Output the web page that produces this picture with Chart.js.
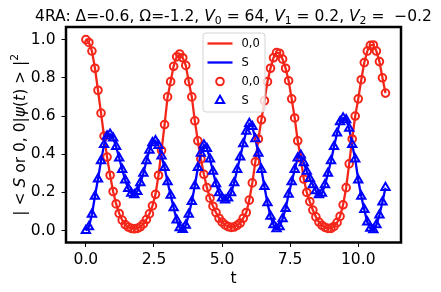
<!DOCTYPE html>
<html>
<head>
<meta charset="utf-8">
<script src="https://cdn.jsdelivr.net/npm/chart.js@4.4.0/dist/chart.umd.min.js"></script>
<style>
  html, body { margin: 0; padding: 0; background: #fff; }
  #wrap { width: 441px; height: 292px; }
</style>
</head>
<body>
<div id="wrap"><canvas id="chart" width="441" height="292"></canvas></div>
<script>
// time samples (t)
let times = [0.000, 0.111, 0.222, 0.333, 0.444, 0.556, 0.667, 0.778, 0.889, 1.000,
  1.111, 1.222, 1.333, 1.444, 1.556, 1.667, 1.778, 1.889, 2.000, 2.111,
  2.222, 2.333, 2.444, 2.556, 2.667, 2.778, 2.889, 3.000, 3.111, 3.222,
  3.333, 3.444, 3.556, 3.667, 3.778, 3.889, 4.000, 4.111, 4.222, 4.333,
  4.444, 4.556, 4.667, 4.778, 4.889, 5.000, 5.111, 5.222, 5.333, 5.444,
  5.556, 5.667, 5.778, 5.889, 6.000, 6.111, 6.222, 6.333, 6.444, 6.556,
  6.667, 6.778, 6.889, 7.000, 7.111, 7.222, 7.333, 7.444, 7.556, 7.667,
  7.778, 7.889, 8.000, 8.111, 8.222, 8.333, 8.444, 8.556, 8.667, 8.778,
  8.889, 9.000, 9.111, 9.222, 9.333, 9.444, 9.556, 9.667, 9.778, 9.889,
  10.000, 10.111, 10.222, 10.333, 10.444, 10.556, 10.667, 10.778, 10.889, 11.000];

// |<0,0|psi(t)>|^2
let probZero = [1.000, 0.985, 0.940, 0.850, 0.735, 0.615, 0.495, 0.385, 0.290, 0.205,
  0.140, 0.090, 0.055, 0.032, 0.019, 0.012, 0.010, 0.012, 0.020, 0.035,
  0.058, 0.088, 0.130, 0.190, 0.290, 0.420, 0.555, 0.700, 0.780, 0.860,
  0.910, 0.925, 0.905, 0.865, 0.780, 0.700, 0.575, 0.470, 0.375, 0.295,
  0.225, 0.170, 0.128, 0.095, 0.065, 0.045, 0.030, 0.021, 0.017, 0.019,
  0.028, 0.040, 0.065, 0.095, 0.160, 0.250, 0.360, 0.480, 0.580, 0.680,
  0.780, 0.850, 0.905, 0.932, 0.928, 0.898, 0.850, 0.785, 0.690, 0.590,
  0.470, 0.380, 0.270, 0.200, 0.152, 0.108, 0.072, 0.045, 0.028, 0.017,
  0.012, 0.012, 0.022, 0.042, 0.075, 0.135, 0.225, 0.350, 0.480, 0.600,
  0.690, 0.790, 0.880, 0.940, 0.970, 0.972, 0.940, 0.885, 0.800, 0.720];

// |<S|psi(t)>|^2
let probS = [0.000, 0.020, 0.085, 0.180, 0.270, 0.365, 0.450, 0.495, 0.505, 0.485,
  0.440, 0.380, 0.320, 0.265, 0.220, 0.195, 0.188, 0.205, 0.250, 0.300,
  0.365, 0.420, 0.460, 0.470, 0.445, 0.390, 0.330, 0.255, 0.185, 0.120,
  0.055, 0.015, 0.005, 0.028, 0.085, 0.152, 0.235, 0.330, 0.405, 0.448,
  0.430, 0.375, 0.310, 0.245, 0.198, 0.170, 0.160, 0.170, 0.198, 0.250,
  0.320, 0.385, 0.455, 0.520, 0.560, 0.545, 0.480, 0.405, 0.320, 0.230,
  0.145, 0.075, 0.030, 0.010, 0.020, 0.062, 0.115, 0.190, 0.255, 0.320,
  0.380, 0.395, 0.355, 0.310, 0.272, 0.240, 0.208, 0.188, 0.195, 0.240,
  0.300, 0.365, 0.440, 0.510, 0.570, 0.590, 0.580, 0.535, 0.450, 0.375,
  0.265, 0.180, 0.110, 0.045, 0.012, 0.004, 0.030, 0.082, 0.150, 0.225];

let xTicks = [0, 2.5, 5, 7.5, 10];
let yTicks = [0, 0.2, 0.4, 0.6, 0.8, 1.0];
let legendLabels = ["0,0", "S", "0,0", "S"];

let RED = "#f4261a";
let BLUE = "#0000ff";
let FONT = "'DejaVu Sans', sans-serif";

function toPoints(ys) {
  return times.map((t, i) => ({ x: t, y: ys[i] }));
}

// draws text made of pieces (italic / sub / sup)
function drawRich(ctx, parts, x, y, size, align) {
  let widths = parts.map(p => {
    let s = p.sub || p.sup ? size * 0.7 : size;
    ctx.font = (p.it ? "italic " : "") + s + "px " + FONT;
    return ctx.measureText(p.t).width;
  });
  let total = widths.reduce((a, b) => a + b, 0);
  let cx = align === "center" ? x - total / 2 : x;
  parts.forEach((p, i) => {
    let s = p.sub || p.sup ? size * 0.7 : size;
    ctx.font = (p.it ? "italic " : "") + s + "px " + FONT;
    let dy = p.sub ? size * 0.22 : (p.sup ? -size * 0.42 : 0);
    ctx.fillText(p.t, cx, y + dy);
    cx += widths[i];
  });
}

let decor = {
  id: "decor",
  beforeDraw(chart) {
    let ctx = chart.ctx;
    ctx.save();
    ctx.fillStyle = "#fff";
    ctx.fillRect(0, 0, chart.width, chart.height);
    ctx.restore();
  },
  afterDatasetsDraw(chart) {
    let ctx = chart.ctx;
    let a = chart.chartArea;
    ctx.save();
    ctx.strokeStyle = "#000";
    ctx.lineWidth = 2.5;
    ctx.strokeRect(a.left, a.top, a.right - a.left, a.bottom - a.top);
    ctx.restore();
  },
  afterDraw(chart) {
    let ctx = chart.ctx;
    let a = chart.chartArea;
    let midX = (a.left + a.right) / 2;
    ctx.save();
    ctx.fillStyle = "#000";
    ctx.textBaseline = "alphabetic";

    // title
    drawRich(ctx, [
      { t: "4RA: Δ=-0.6, Ω=-1.2, " },
      { t: "V", it: true }, { t: "0", sub: true }, { t: " = 64, " },
      { t: "V", it: true }, { t: "1", sub: true }, { t: " = 0.2, " },
      { t: "V", it: true }, { t: "2", sub: true }, { t: " =  −0.2" }
    ], midX, 20.5, 15.5, "center");

    // x label
    ctx.font = "15.5px " + FONT;
    ctx.textAlign = "center";
    ctx.fillText("t", midX, 283);
    ctx.textAlign = "left";

    // y label
    ctx.save();
    ctx.translate(25, (a.top + a.bottom) / 2);
    ctx.rotate(-Math.PI / 2);
    drawRich(ctx, [
      { t: "| < " }, { t: "S", it: true }, { t: " or 0, 0|" },
      { t: "ψ", it: true }, { t: "(" }, { t: "t", it: true }, { t: ") > |" },
      { t: "2", sup: true }
    ], 0, 0, 15.5, "center");
    ctx.restore();

    // legend
    let lx = 203, ly = 33, lw = 62, lh = 79;
    ctx.beginPath();
    ctx.roundRect(lx, ly, lw, lh, 3);
    ctx.fillStyle = "rgba(255,255,255,0.8)";
    ctx.fill();
    ctx.strokeStyle = "#d4d4d4";
    ctx.lineWidth = 1;
    ctx.stroke();

    let rowY = [43.5, 62.5, 81.5, 100.5];
    let sets = chart.data.datasets;
    rowY.forEach((ry, i) => {
      let ds = sets[i];
      ctx.strokeStyle = ds.borderColor;
      ctx.lineWidth = ds.borderWidth;
      if (i < 2) {
        ctx.beginPath();
        ctx.moveTo(207.5, ry);
        ctx.lineTo(232.5, ry);
        ctx.stroke();
      } else {
        ctx.fillStyle = "rgba(0,0,0,0)";
        Chart.helpers.drawPoint(ctx, {
          pointStyle: ds.pointStyle, radius: ds.pointRadius, borderWidth: ds.borderWidth, rotation: 0
        }, 220, ry);
      }
      ctx.fillStyle = "#000";
      ctx.font = "11.5px " + FONT;
      ctx.textBaseline = "middle";
      ctx.fillText(legendLabels[i], 241.5, ry + 0.5);
    });
    ctx.restore();
  }
};

let chart = new Chart(document.getElementById("chart").getContext("2d"), {
  type: "line",
  data: {
    datasets: [
      { label: legendLabels[0], data: toPoints(probZero), borderColor: RED, borderWidth: 2.3,
        pointRadius: 0, fill: false, tension: 0, order: 4 },
      { label: legendLabels[1], data: toPoints(probS), borderColor: BLUE, borderWidth: 2.3,
        pointRadius: 0, fill: false, tension: 0, order: 3 },
      { label: legendLabels[2], data: toPoints(probZero), borderColor: RED, borderWidth: 2,
        backgroundColor: "rgba(0,0,0,0)", showLine: false, pointStyle: "circle",
        pointRadius: 3.8, order: 2 },
      { label: legendLabels[3], data: toPoints(probS), borderColor: BLUE, borderWidth: 2,
        backgroundColor: "rgba(0,0,0,0)", showLine: false, pointStyle: "triangle",
        pointRadius: 4.8, order: 1 }
    ]
  },
  options: {
    responsive: false,
    animation: false,
    layout: { padding: { left: 0, top: 27, right: 40, bottom: 0 } },
    plugins: { legend: { display: false }, title: { display: false }, tooltip: { enabled: false } },
    scales: {
      x: {
        type: "linear", min: -0.73, max: 11.57,
        afterBuildTicks: s => { s.ticks = xTicks.map(v => ({ value: v })); },
        afterFit: s => { s.height = 49.5; },
        ticks: { callback: v => v.toFixed(1), color: "#000", font: { family: FONT, size: 15.5 }, padding: 4, maxRotation: 0 },
        grid: { drawOnChartArea: false, drawTicks: true, tickLength: 4.5, tickColor: "#000", tickWidth: 1 },
        border: { display: false }
      },
      y: {
        type: "linear", min: -0.062, max: 1.066,
        afterBuildTicks: s => { s.ticks = yTicks.map(v => ({ value: v })); },
        afterFit: s => { s.width = 66; },
        ticks: { callback: v => v.toFixed(1), color: "#000", font: { family: FONT, size: 15.5 }, padding: 6 },
        grid: { drawOnChartArea: false, drawTicks: true, tickLength: 4.5, tickColor: "#000", tickWidth: 1 },
        border: { display: false }
      }
    }
  },
  plugins: [decor]
});
</script>
</body>
</html>
